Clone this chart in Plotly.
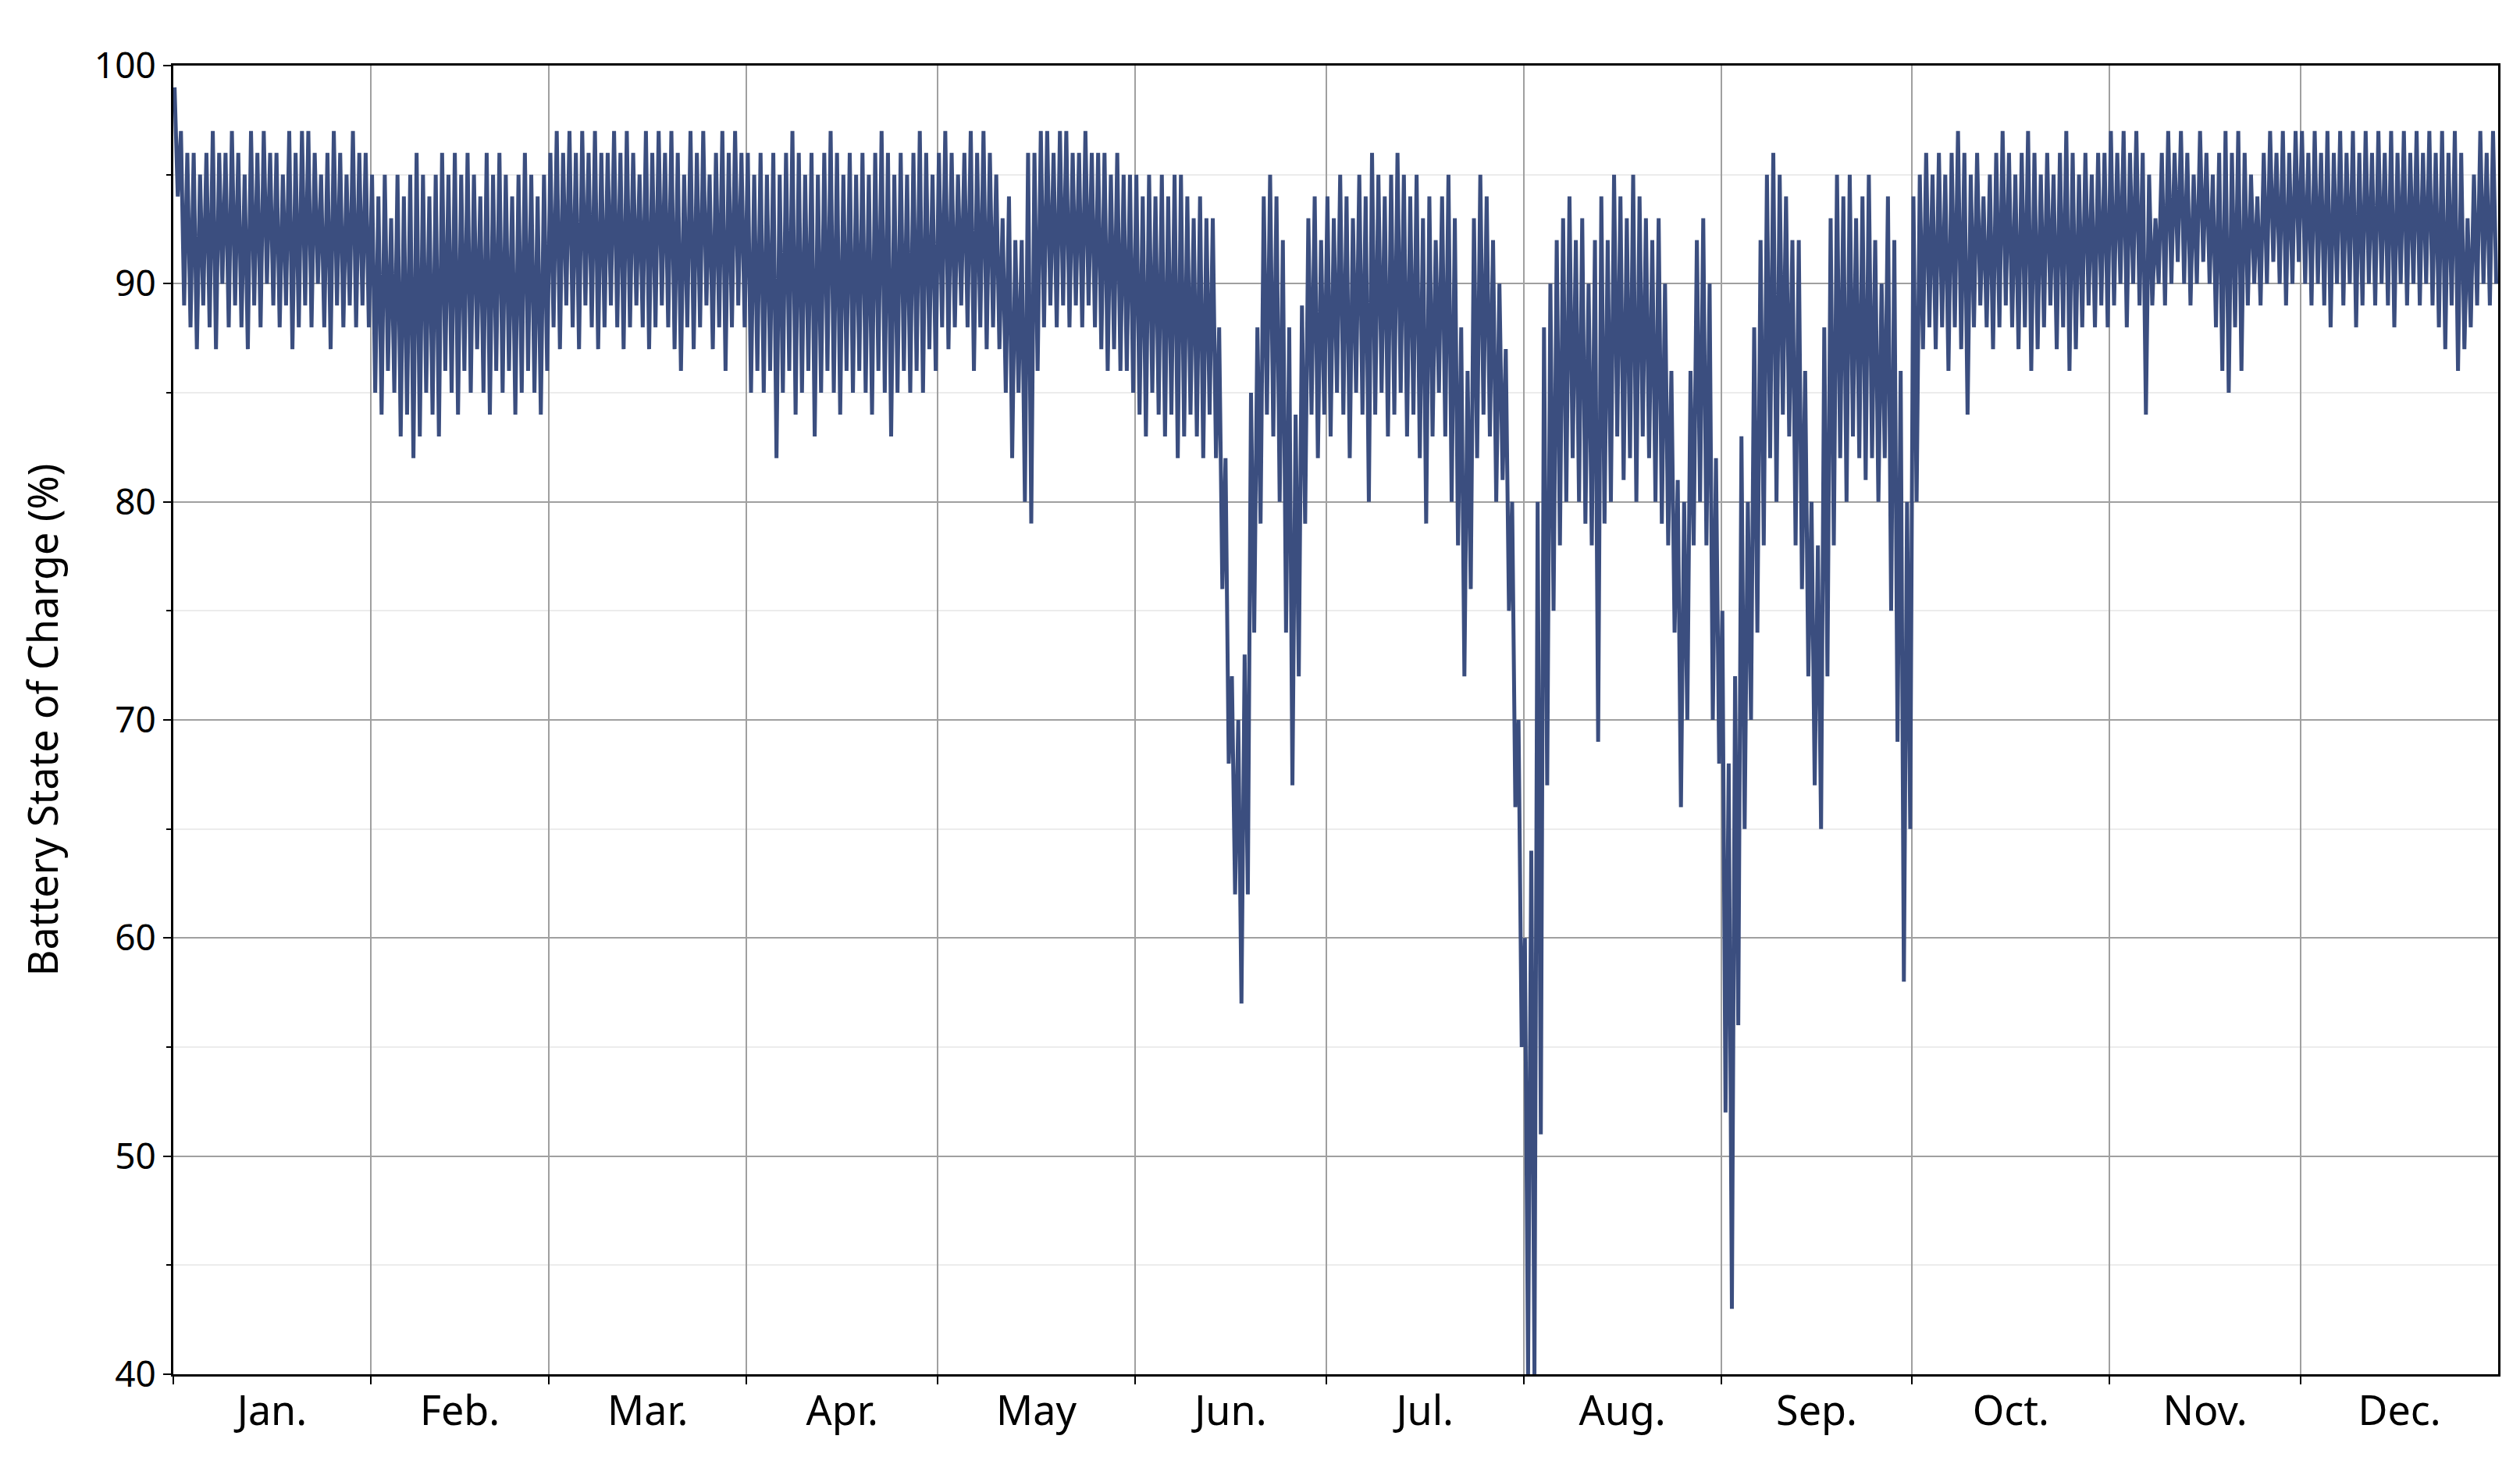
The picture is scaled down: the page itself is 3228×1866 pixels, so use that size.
import plotly.graph_objects as go

month_names = ["Jan.", "Feb.", "Mar.", "Apr.", "May", "Jun.", "Jul.", "Aug.", "Sep.", "Oct.", "Nov.", "Dec."]
month_days = [31, 28, 31, 30, 31, 30, 31, 31, 30, 31, 30, 31]

# daily peak (after charging) and trough (after discharging) of state of charge, %
daily_high = {
    "Jan.": [99,97,96,96,95,96,97,96,96,97,96,95,97,96,97,96,96,95,97,96,97,97,96,95,96,97,96,95,97,96,96],
    "Feb.": [95,94,95,93,95,94,95,96,95,94,95,96,95,96,95,96,95,94,96,95,96,95,94,95,96,95,94,95],
    "Mar.": [96,97,96,97,96,97,96,97,96,96,97,96,97,96,95,97,96,97,96,97,96,95,97,96,97,95,96,97,96,97,96],
    "Apr.": [96,95,96,95,96,95,96,97,96,95,96,95,96,97,96,95,96,95,96,95,96,97,96,95,96,95,96,97,96,95],
    "May":  [96,97,96,95,96,97,96,97,96,95,93,94,92,92,96,96,97,97,96,97,97,96,96,97,96,96,96,95,96,95,95],
    "Jun.": [95,94,95,94,95,94,95,95,94,93,94,93,93,88,82,72,70,73,85,88,94,95,94,92,88,84,89,93,94,92],
    "Jul.": [94,93,95,94,93,95,94,96,95,94,95,96,95,94,95,93,94,92,94,95,93,88,86,93,95,94,92,90,87,80,70],
    "Aug.": [60,64,80,88,90,92,93,94,92,93,90,92,94,92,95,94,93,95,94,93,92,93,90,86,81,80,86,92,93,90,82],
    "Sep.": [75,68,72,83,80,88,92,95,96,95,94,92,92,86,80,78,88,93,95,94,95,93,94,95,92,90,94,92,86,80],
    "Oct.": [94,95,96,95,96,95,96,97,96,95,96,94,95,96,97,96,95,96,97,96,95,96,95,96,97,96,95,96,95,96,96],
    "Nov.": [97,96,97,96,97,96,95,93,96,97,96,97,96,95,97,96,95,96,97,96,97,96,95,94,96,97,96,97,96,97],
    "Dec.": [97,96,97,96,97,96,97,96,97,96,97,96,97,96,97,96,97,96,97,96,97,96,97,96,97,96,93,95,97,96,97],
}
daily_low = {
    "Jan.": [94,89,88,87,89,88,87,90,88,89,88,87,89,88,90,89,88,89,87,88,89,88,90,88,87,89,88,89,88,89,88],
    "Feb.": [85,84,86,85,83,84,82,83,85,84,83,86,85,84,86,85,87,85,84,86,85,86,84,85,86,85,84,86],
    "Mar.": [88,87,89,88,87,89,88,87,88,89,88,87,88,89,88,87,88,89,88,87,86,88,87,88,89,87,88,86,88,89,88],
    "Apr.": [85,86,85,86,82,85,86,84,85,86,83,85,86,85,84,86,85,86,85,84,86,85,83,85,86,85,86,85,87,86],
    "May":  [88,87,88,89,88,86,88,87,88,87,85,82,85,80,79,86,88,89,88,89,88,89,88,89,88,87,86,87,86,86,85],
    "Jun.": [84,83,85,84,83,84,82,83,84,83,82,84,82,76,68,62,57,62,74,79,84,83,80,74,67,72,79,84,82,84],
    "Jul.": [83,85,84,82,85,84,80,84,85,83,84,85,83,84,82,79,83,85,83,80,78,72,76,82,84,83,80,81,75,66,55],
    "Aug.": [40,40,51,67,75,78,80,82,80,79,78,69,79,80,83,81,82,80,83,82,80,79,78,74,66,70,78,80,78,70,68],
    "Sep.": [52,43,56,65,70,74,78,82,80,84,83,78,76,72,67,65,72,78,82,80,83,82,81,82,80,82,75,69,58,65],
    "Oct.": [80,87,88,87,88,86,88,87,84,88,89,88,87,88,89,88,87,88,86,87,88,89,87,88,86,87,88,89,88,89,88],
    "Nov.": [89,90,88,90,89,84,89,90,89,90,91,90,89,90,91,90,88,86,85,88,86,89,90,89,90,91,90,89,90,91],
    "Dec.": [90,89,90,89,88,90,89,90,88,89,90,89,90,89,88,90,89,90,89,90,89,88,87,89,86,87,88,89,90,89,90],
}

# flatten: peak in the early part of the day, trough later
xs, ys = [], []
day = 0
for m in month_names:
    for hi, lo in zip(daily_high[m], daily_low[m]):
        xs += [day + 0.2, day + 0.7]
        ys += [hi, lo]
        day += 1

month_starts = [0]
for n in month_days[:-1]:
    month_starts.append(month_starts[-1] + n)
month_mids = [s + n / 2 for s, n in zip(month_starts, month_days)]

fig = go.Figure()
fig.add_trace(go.Scatter(x=xs, y=ys, mode="lines",
                         line=dict(color="#3b4e7f", width=5), showlegend=False))
fig.add_trace(go.Scatter(x=[0, 365], y=[None, None], xaxis="x2", showlegend=False,
                         hoverinfo="skip"))

font = dict(family="Noto Sans", size=46, color="black")
fig.update_layout(
    width=3228, height=1866,
    margin=dict(l=214, r=36, t=76, b=114),
    plot_bgcolor="white", paper_bgcolor="white",
    font=font,
    xaxis=dict(range=[0, 365], tickvals=month_starts[1:] + [0], ticktext=[""] * 12,
               showgrid=True, gridcolor="#a0a0a0", gridwidth=2,
               ticks="outside", ticklen=10, tickwidth=2, tickcolor="black",
               showline=True, linecolor="black", linewidth=3, mirror=True, zeroline=False),
    xaxis2=dict(range=[0, 365], overlaying="x", side="bottom", tickvals=month_mids,
                ticktext=month_names, showgrid=False, ticks="outside", ticklen=2,
                tickcolor="rgba(0,0,0,0)", showline=False,
                zeroline=False, tickfont=dict(family="Noto Sans", size=52)),
    yaxis=dict(range=[40, 100], dtick=10, showgrid=True, gridcolor="#a0a0a0", gridwidth=2,
               ticks="outside", ticklen=10, tickwidth=2, tickcolor="black",
               minor=dict(dtick=5, showgrid=True, gridcolor="#ececec", gridwidth=2,
                          ticks="outside", ticklen=6, tickcolor="black"),
               showline=True, linecolor="black", linewidth=3, mirror=True, zeroline=False,
               title=dict(text="Battery State of Charge (%)", font=dict(size=52), standoff=30)),
)

fig.write_html("out.html")
